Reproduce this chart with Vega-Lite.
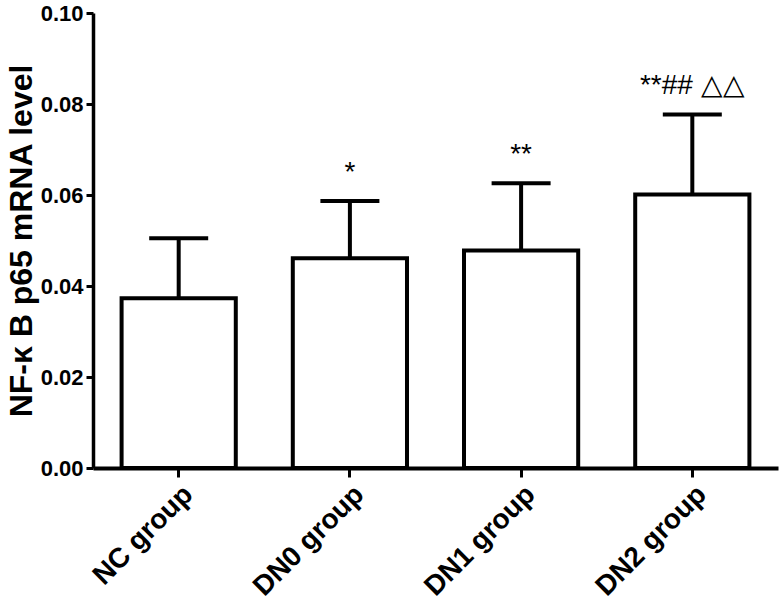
{
  "$schema": "https://vega.github.io/schema/vega-lite/v6.json",
  "width": 685,
  "height": 455,
  "autosize": "none",
  "padding": {"left": 93, "top": 13, "right": 4, "bottom": 143},
  "background": "white",
  "config": {"view": {"stroke": null}, "font": "Liberation Sans"},
  "data": {
    "values": [
      {"group": "NC group", "mean": 0.0373, "upper": 0.0505, "label": ""},
      {"group": "DN0 group", "mean": 0.0461, "upper": 0.0587, "label": "*"},
      {"group": "DN1 group", "mean": 0.0478, "upper": 0.0626, "label": "**"},
      {"group": "DN2 group", "mean": 0.0601, "upper": 0.0777, "label": "**## △△"}
    ]
  },
  "encoding": {
    "x": {
      "field": "group",
      "type": "nominal",
      "sort": null,
      "scale": {"paddingInner": 0.333, "paddingOuter": 0.167},
      "axis": {
        "title": null,
        "labelAngle": -45,
        "labelFont": "Liberation Sans",
        "labelFontSize": 28,
        "labelFontWeight": "bold",
        "labelColor": "black",
        "labelPadding": 3,
        "tickSize": 9,
        "tickWidth": 3,
        "tickColor": "black",
        "domainColor": "black",
        "domainWidth": 4
      }
    }
  },
  "layer": [
    {
      "mark": {"type": "bar", "fill": "white", "stroke": "black", "strokeWidth": 4},
      "encoding": {
        "y": {
          "field": "mean",
          "type": "quantitative",
          "scale": {"domain": [0, 0.1], "nice": false},
          "axis": {
            "title": "NF-κ B p65 mRNA level",
            "titleFont": "Liberation Sans",
            "titleFontSize": 32,
            "titleFontWeight": "bold",
            "titleColor": "black",
            "titlePadding": 2,
            "values": [0, 0.02, 0.04, 0.06, 0.08, 0.1],
            "format": ".2f",
            "grid": false,
            "labelFont": "Liberation Sans",
            "labelFontSize": 22,
            "labelFontWeight": "bold",
            "labelColor": "black",
            "labelPadding": 3,
            "tickSize": 7,
            "tickWidth": 3,
            "tickColor": "black",
            "domainColor": "black",
            "domainWidth": 3.5
          }
        }
      }
    },
    {
      "mark": {"type": "rule", "strokeWidth": 4, "color": "black"},
      "encoding": {
        "y": {"field": "mean", "type": "quantitative"},
        "y2": {"field": "upper"}
      }
    },
    {
      "mark": {"type": "tick", "thickness": 4, "size": 59, "color": "black", "opacity": 1},
      "encoding": {
        "y": {"field": "upper", "type": "quantitative"}
      }
    },
    {
      "mark": {"type": "text", "fontSize": 28, "dy": -28, "baseline": "middle", "color": "black", "font": "Liberation Sans"},
      "encoding": {
        "y": {"field": "upper", "type": "quantitative"},
        "text": {"field": "label"}
      }
    }
  ]
}
